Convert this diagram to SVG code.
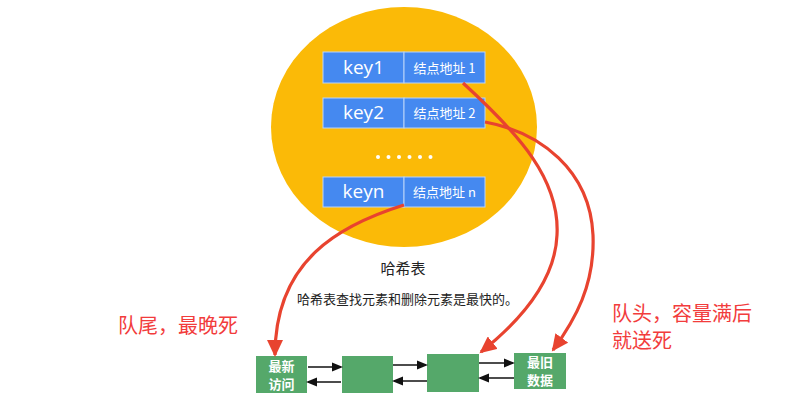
<svg xmlns="http://www.w3.org/2000/svg" width="806" height="413" viewBox="0 0 806 413">
<style>
.cell{fill:#4589f0;stroke:#b9d3fa;stroke-width:1}
.key{font-family:"Open Sans","Noto Sans",sans-serif;font-size:19px;fill:#fff;text-anchor:middle}
.addr{font-family:"Noto Sans CJK SC","Open Sans",sans-serif;font-size:13px;fill:#fff;text-anchor:middle}
.q{fill:#55a86a}
.qt{font-family:"Noto Sans CJK SC",sans-serif;font-size:13px;font-weight:bold;fill:#fff;text-anchor:middle}
.red{stroke:#e8432f;stroke-width:3.2;fill:none;marker-end:url(#rh)}
.blk{stroke:#111;stroke-width:1.5;fill:none;marker-end:url(#bh)}
.lbl{font-family:"Noto Sans CJK SC",sans-serif;fill:#222}
.note{font-family:"Noto Sans CJK SC",sans-serif;font-size:20px;fill:#f23c3c}
</style>
<defs>
<marker id="rh" markerUnits="userSpaceOnUse" markerWidth="18" markerHeight="16" refX="15" refY="8" orient="auto">
<path d="M0,0 L17,8 L0,16 z" fill="#e8432f"/>
</marker>
<marker id="bh" markerUnits="userSpaceOnUse" markerWidth="12" markerHeight="10" refX="9" refY="5" orient="auto">
<path d="M0,0.5 L11,5 L0,9.5 z" fill="#111"/>
</marker>
</defs>
<rect width="806" height="413" fill="#fff"/>
<g id="hashtable">
<ellipse cx="404" cy="127" rx="133" ry="120" fill="#fbba07"/>
<g id="row1">
<rect class="cell" x="323" y="52" width="81" height="31"/>
<rect class="cell" x="404" y="52" width="81" height="31"/>
<text class="key" x="363.5" y="74">key1</text>
<text class="addr" x="444.5" y="73">结点地址 1</text>
</g>
<g id="row2">
<rect class="cell" x="323" y="98" width="81" height="30"/>
<rect class="cell" x="404" y="98" width="81" height="30"/>
<text class="key" x="363.5" y="119">key2</text>
<text class="addr" x="444.5" y="118">结点地址 2</text>
</g>
<g id="dots" fill="#fff">
<circle cx="378" cy="157" r="2"/><circle cx="388.5" cy="157" r="2"/><circle cx="399" cy="157" r="2"/><circle cx="409.5" cy="157" r="2"/><circle cx="420" cy="157" r="2"/><circle cx="430.5" cy="157" r="2"/>
</g>
<g id="rown">
<rect class="cell" x="323" y="177" width="81" height="30"/>
<rect class="cell" x="404" y="177" width="81" height="30"/>
<text class="key" x="363.5" y="198">keyn</text>
<text class="addr" x="444.5" y="197">结点地址 n</text>
</g>
</g>
<g id="captions">
<text class="lbl" x="403" y="274" font-size="15" text-anchor="middle">哈希表</text>
<text class="lbl" x="297" y="304" font-size="13">哈希表查找元素和删除元素是最快的。</text>
<text class="note" x="118" y="333">队尾，最晚死</text>
<text class="note" x="612" y="321">队头，容量满后</text>
<text class="note" x="612" y="348">就送死</text>
</g>
<g id="n1"><rect class="q" x="256" y="356" width="51" height="37"/><text class="qt" x="281.5" y="371">最新</text><text class="qt" x="281.5" y="389">访问</text></g>
<g id="n2"><rect class="q" x="342" y="356" width="51" height="37"/></g>
<g id="n3"><rect class="q" x="427" y="354" width="52" height="38"/></g>
<g id="n4"><rect class="q" x="514" y="353" width="52" height="36"/><text class="qt" x="540" y="367">最旧</text><text class="qt" x="540" y="385">数据</text></g>
<g id="connectors">
<path class="red" d="M463,83 C520,135 560,180 557,235 C555,285 515,325 481,352"/>
<path class="red" d="M485,122 C540,132 590,170 593,235 C595,285 575,320 553,350"/>
<path class="red" d="M404,205 C340,225 275,260 275,355"/>
<path class="blk" d="M308,367 L341,367"/>
<path class="blk" d="M393,365 L426,365"/>
<path class="blk" d="M479,363 L513,363"/>
<path class="blk" d="M341,382 L308,382"/>
<path class="blk" d="M427,381 L394,381"/>
<path class="blk" d="M514,378 L480,378"/>
</g>
</svg>
